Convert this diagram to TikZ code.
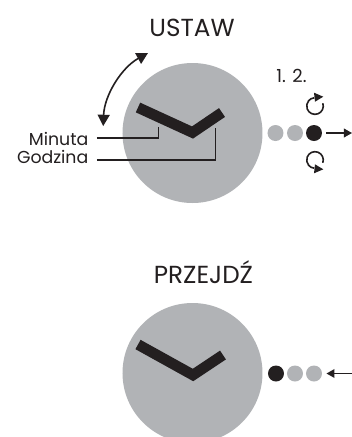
\documentclass[tikz,border=0pt]{standalone}
\usepackage{fontspec}
\setmainfont{Poppins}
\usetikzlibrary{arrows.meta}
\definecolor{dialgray}{HTML}{B1B3B6}
\definecolor{inkblack}{HTML}{231F20}
\tikzset{
	dial/.style={circle, fill=dialgray, inner sep=0pt, minimum size=105pt},
	hands/.style={draw=inkblack, line width=8pt, miter limit=10},
	crowndot/.style={circle, fill=dialgray, inner sep=0pt, minimum size=12pt},
	crownon/.style={crowndot, fill=inkblack},
	thinarrow/.style={draw=inkblack, line width=1pt, -{Triangle[length=6pt,width=6.5pt]}},
	turnline/.style={draw=inkblack, line width=1.2pt},
	leader/.style={draw=inkblack, line width=1pt},
	title/.style={font=\fontsize{18.5}{18.5}\selectfont, text=inkblack},
	label/.style={font=\fontsize{13}{13}\selectfont, text=inkblack, anchor=east}
}
\begin{document}
\begin{tikzpicture}[x=.75pt, y=-.75pt]
			\clip (0,0) rectangle (352,437);
			\fill[white] (0,0) rectangle (352,437);
			% upper clock
			\node[title] (ustaw) at (192,28) {USTAW};
			\node[dial] (clockA) at (192.5,133) {};
			\draw[hands] (138,107.5) -- (192.5,132.5) -- (222,112.5);
			\draw[draw=inkblack, line width=1.2pt, {Triangle[length=8.5pt,width=9pt]}-{Triangle[length=8.5pt,width=9pt]}] (148,53) arc(-119:-178:87);
			\node[label] (minuta) at (93,139) {Minuta};
			\node[label] (godzina) at (93,157) {Godzina};
			\coordinate (minA) at (97,138);
			\coordinate (minB) at (158.5,127);
			\coordinate (godA) at (97,160);
			\coordinate (godB) at (215.5,128);
			\draw[leader] (minA) -| (minB);
			\draw[leader, line width=1.2pt] (godA) -| (godB);
			\node[crowndot] (dotA) at (275.5,133) {};
			\node[crowndot] (dotB) at (295,133) {};
			\node[crownon] (dotC) at (314,133) {};
			\coordinate (outA) at (352,133);
			\draw[thinarrow] (dotC.east) ++(4,0) -- (outA);
			\node[font=\fontsize{13.5}{13.5}\selectfont, text=inkblack] (steps) at (291.5,76) {1. 2.};
			\draw[turnline] (322.8,103.2) arc(-20:265:8.3);
			\fill[inkblack] (314,92.7) -- (323.3,96.7) -- (315,101.7) -- cycle;
			\draw[turnline] (322.8,162.8) arc(20:-265:8.3);
			\fill[inkblack] (314,173.3) -- (323.3,169.3) -- (315,164.3) -- cycle;
			% lower clock
			\node[title] (przejdz) at (203.5,272) {PRZEJDŹ};
			\node[dial] (clockB) at (192.5,373) {};
			\draw[hands] (138,344.5) -- (193,375) -- (223,355);
			\node[crownon] (dotD) at (276,373.5) {};
			\node[crowndot] (dotE) at (295,373.5) {};
			\node[crowndot] (dotF) at (314,373.5) {};
			\coordinate (inA) at (352,373.5);
			\draw[thinarrow] (inA) -- (326.5,373.5);
\end{tikzpicture}
\end{document}
